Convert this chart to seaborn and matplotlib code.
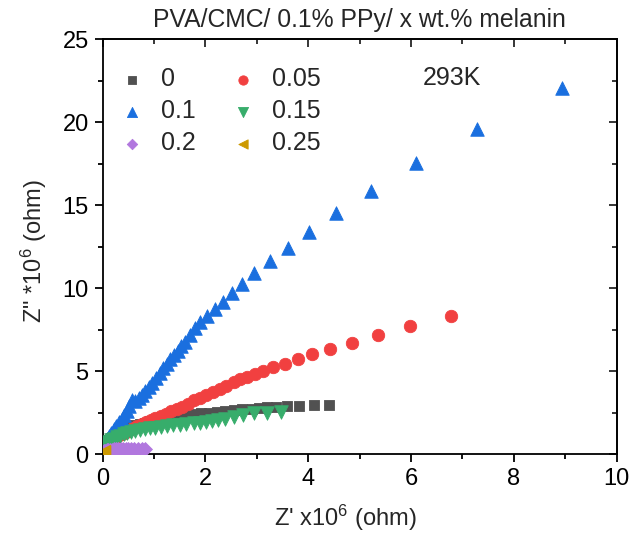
import matplotlib
matplotlib.use("Agg")
import matplotlib.pyplot as plt
import seaborn as sns
import pandas as pd
from matplotlib.ticker import MultipleLocator

# ---- data (Z' and Z'' in units of 1e6 ohm) ----
labels = ["0", "0.05", "0.1", "0.15", "0.2", "0.25"]

x_0 = [0.01, 0.04, 0.08, 0.12, 0.17, 0.22, 0.28, 0.34, 0.41, 0.48, 0.56, 0.64, 0.73, 0.82,
       0.92, 1.02, 1.13, 1.25, 1.37, 1.50, 1.63, 1.77, 1.92, 2.07, 2.22, 2.38, 2.55, 2.72,
       2.90, 3.04, 3.19, 3.37, 3.58, 3.83, 4.11, 4.41]
y_0 = [0.45, 0.58, 0.72, 0.85, 0.98, 1.10, 1.22, 1.33, 1.44, 1.55, 1.65, 1.74, 1.83, 1.91,
       1.98, 2.05, 2.11, 2.17, 2.23, 2.29, 2.35, 2.41, 2.46, 2.51, 2.56, 2.61, 2.66, 2.71,
       2.75, 2.79, 2.83, 2.87, 2.91, 2.93, 2.97, 2.97]

x_005 = [0.01, 0.05, 0.10, 0.15, 0.20, 0.26, 0.32, 0.38, 0.45, 0.52, 0.60, 0.68, 0.76, 0.85,
         0.94, 1.03, 1.13, 1.23, 1.33, 1.44, 1.55, 1.66, 1.78, 1.90, 2.02, 2.15, 2.28, 2.41,
         2.55, 2.68, 2.82, 2.97, 3.13, 3.32, 3.54, 3.80, 4.08, 4.43, 4.85, 5.35, 5.98, 6.78]
y_005 = [0.45, 0.60, 0.72, 0.83, 0.93, 1.04, 1.15, 1.25, 1.36, 1.47, 1.58, 1.70, 1.82, 1.95,
         2.07, 2.20, 2.33, 2.45, 2.58, 2.72, 2.86, 3.05, 3.25, 3.42, 3.57, 3.75, 3.92, 4.12,
         4.36, 4.52, 4.67, 4.84, 5.04, 5.24, 5.46, 5.72, 6.02, 6.36, 6.72, 7.19, 7.73, 8.35]

x_01 = [0.01, 0.04, 0.08, 0.12, 0.17, 0.22, 0.27, 0.32, 0.37, 0.42, 0.47, 0.52, 0.58, 0.64,
        0.70, 0.76, 0.83, 0.90, 0.97, 1.04, 1.11, 1.18, 1.25, 1.32, 1.39, 1.46, 1.53, 1.60,
        1.70, 1.80, 1.90, 2.03, 2.18, 2.35, 2.52, 2.72, 2.95, 3.25, 3.60, 4.02, 4.55, 5.22,
        6.10, 7.28, 8.93]
y_01 = [0.55, 0.75, 0.95, 1.12, 1.30, 1.50, 1.72, 1.95, 2.15, 2.38, 2.60, 2.90, 3.25, 3.20,
        3.40, 3.55, 3.80, 4.05, 4.30, 4.60, 4.90, 5.18, 5.45, 5.72, 5.98, 6.25, 6.50, 6.75,
        7.19, 7.59, 7.99, 8.35, 8.75, 9.19, 9.70, 10.26, 10.90, 11.63, 12.45, 13.41, 14.55,
        15.88, 17.53, 19.58, 22.08]

x_015 = [0.01, 0.04, 0.08, 0.12, 0.17, 0.22, 0.28, 0.34, 0.41, 0.48, 0.56, 0.64, 0.73, 0.82,
         0.92, 1.02, 1.13, 1.25, 1.37, 1.50, 1.63, 1.77, 1.90, 2.01, 2.12, 2.25, 2.38, 2.55,
         2.74, 2.95, 3.19, 3.47]
y_015 = [0.42, 0.55, 0.66, 0.76, 0.86, 0.95, 1.04, 1.12, 1.20, 1.27, 1.34, 1.41, 1.47, 1.52,
         1.57, 1.61, 1.65, 1.69, 1.74, 1.78, 1.83, 1.87, 1.91, 1.93, 1.99, 2.07, 2.15, 2.23,
         2.35, 2.47, 2.51, 2.57]

x_02 = [0.02, 0.05, 0.08, 0.11, 0.14, 0.18, 0.22, 0.26, 0.30, 0.35, 0.40, 0.45, 0.50, 0.56,
        0.62, 0.69, 0.76, 0.83]
y_02 = [0.18, 0.22, 0.25, 0.27, 0.28, 0.29, 0.30, 0.30, 0.31, 0.31, 0.31, 0.32, 0.32, 0.32,
        0.32, 0.32, 0.32, 0.31]

x_025 = [0.005, 0.01, 0.015, 0.02, 0.025, 0.03]
y_025 = [0.02, 0.05, 0.08, 0.12, 0.16, 0.20]

series_x = [x_0, x_005, x_01, x_015, x_02, x_025]
series_y = [y_0, y_005, y_01, y_015, y_02, y_025]
colors = ["#515151", "#F14040", "#1A6FDF", "#37AD6B", "#B177DE", "#CC9900"]
markers = ["s", "o", "^", "v", "D", "<"]
sizes = [52, 80, 95, 95, 50, 80]

sns.set_theme(style="ticks")
plt.rcParams["font.family"] = ["Liberation Sans", "DejaVu Sans"]
plt.rcParams["mathtext.fontset"] = "custom"
plt.rcParams["mathtext.rm"] = "Liberation Sans"
plt.rcParams["mathtext.it"] = "Liberation Sans:italic"

fig = plt.figure(figsize=(6.33, 5.35), dpi=100)
ax = fig.add_axes([0.162, 0.1508, 0.812, 0.7757])

for i in range(len(labels)):
    df = pd.DataFrame({"x": series_x[i], "y": series_y[i]})
    sns.scatterplot(data=df, x="x", y="y", ax=ax, color=colors[i], marker=markers[i],
                    s=sizes[i], linewidth=0.6, edgecolor=colors[i], label=labels[i],
                    zorder=3)

ax.set_xlim(0, 10)
ax.set_ylim(0, 25)
ax.xaxis.set_major_locator(MultipleLocator(2))
ax.xaxis.set_minor_locator(MultipleLocator(1))
ax.yaxis.set_major_locator(MultipleLocator(5))
ax.yaxis.set_minor_locator(MultipleLocator(2.5))

for sp in ax.spines.values():
    sp.set_visible(True)
    sp.set_linewidth(1.3)
    sp.set_color("black")

ax.tick_params(which="both", direction="out", top=False, right=False, width=1.3,
               colors="black", labelsize=17)
ax.tick_params(which="major", length=6, pad=4)
ax.tick_params(which="minor", length=3.5)
ax2 = ax.secondary_xaxis("top")
ax2.xaxis.set_major_locator(MultipleLocator(2))
ax2.xaxis.set_minor_locator(MultipleLocator(1))
ax2.tick_params(which="both", direction="in", width=1.3, labeltop=False)
ax2.tick_params(which="major", length=6)
ax2.tick_params(which="minor", length=3.5)
ax2.set_xticklabels([])
ax3 = ax.secondary_yaxis("right")
ax3.yaxis.set_major_locator(MultipleLocator(5))
ax3.yaxis.set_minor_locator(MultipleLocator(2.5))
ax3.tick_params(which="both", direction="in", width=1.3, labelright=False)
ax3.tick_params(which="major", length=6)
ax3.tick_params(which="minor", length=3.5)
ax3.set_yticklabels([])
for a in (ax2, ax3):
    for sp in a.spines.values():
        sp.set_linewidth(1.3)

ax.set_xlabel("Z' x10$^{6}$ (ohm)", fontsize=17)
ax.set_ylabel("Z\" *10$^{6}$ (ohm)", fontsize=17)
ax.xaxis.set_label_coords(0.472, -0.118)
ax.yaxis.set_label_coords(-0.105, 0.49)
ax.set_title("PVA/CMC/ 0.1% PPy/ x wt.% melanin", fontsize=17.8, pad=9)

ax.text(6.23, 22.65, "293K", fontsize=18, ha="left", va="center")

handles, labs = ax.get_legend_handles_labels()
order = [0, 2, 4, 1, 3, 5]
leg = ax.legend([handles[k] for k in order], [labs[k] for k in order],
                ncol=2, loc="upper left", bbox_to_anchor=(0.026, 0.933),
                frameon=False, fontsize=18,
                handletextpad=0.5, columnspacing=1.26, labelspacing=0.32,
                borderaxespad=0.0, borderpad=0.0, handlelength=1.3, markerscale=0.75)

fig.savefig("out.png", dpi=100)
